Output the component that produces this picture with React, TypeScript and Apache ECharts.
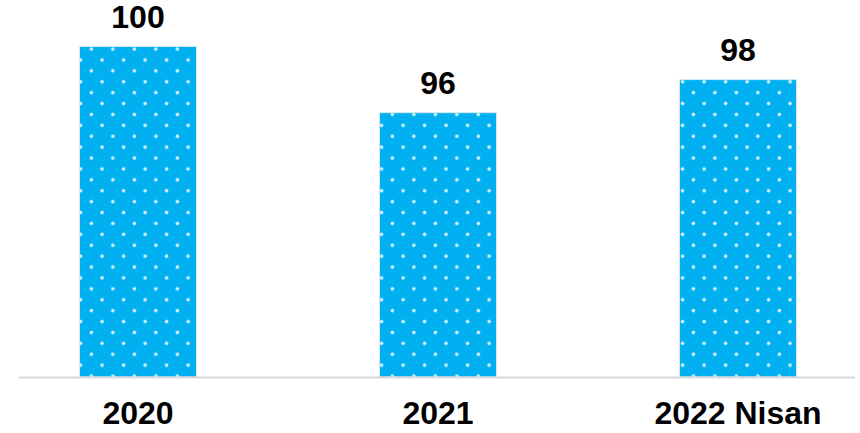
import React, { useEffect, useRef } from "react";
import * as echarts from "echarts";

const categories = ["2020", "2021", "2022 Nisan"];
const values = [100, 96, 98];

const dotSvg =
  "data:image/svg+xml;charset=utf-8," +
  encodeURIComponent(
    '<svg xmlns="http://www.w3.org/2000/svg" width="21.5" height="21.8" viewBox="0 0 21.5 21.8">' +
      '<rect width="21.5" height="21.8" fill="#00B0F0"/>' +
      '<circle cx="5.375" cy="5.45" r="1.9" fill="#9fe2fb"/>' +
      '<circle cx="5.375" cy="5.45" r="1.1" fill="#ffffff"/>' +
      '<circle cx="16.125" cy="16.35" r="1.9" fill="#9fe2fb"/>' +
      '<circle cx="16.125" cy="16.35" r="1.1" fill="#ffffff"/>' +
      "</svg>"
  );

export default function App() {
  const ref = useRef<HTMLDivElement>(null);
  useEffect(() => {
    if (!ref.current) return;
    const chart = echarts.init(ref.current, undefined, { renderer: "svg" });
    const pattern: any = {
      image: dotSvg,
      repeat: "repeat",
      imageWidth: 21.5,
      imageHeight: 21.8,
      x: 3.6,
      y: 6.25,
    };
    chart.setOption({
      animation: false,
      backgroundColor: "#ffffff",
      grid: {
        left: -12,
        right: -28,
        top: 46,
        bottom: 56,
        containLabel: false,
        outerBoundsMode: "none",
      },
      xAxis: {
        type: "category",
        data: categories,
        axisLine: { show: false },
        axisTick: { show: false },
        axisLabel: {
          color: "#000000",
          fontFamily: "Liberation Sans, Arial, sans-serif",
          fontWeight: "bold",
          fontSize: 32,
          margin: 20,
        },
      },
      yAxis: {
        type: "value",
        min: 80,
        max: 100,
        show: false,
        splitLine: { show: false },
      },
      series: [
        {
          type: "bar",
          data: values,
          barWidth: 118,
          itemStyle: {
            color: pattern,
            borderColor: "#d6e6f5",
            borderWidth: 1,
          },
          label: {
            show: true,
            position: "top",
            distance: 13,
            color: "#000000",
            fontFamily: "Liberation Sans, Arial, sans-serif",
            fontWeight: "bold",
            fontSize: 32,
          },
        },
      ],
      graphic: [
        {
          type: "line",
          shape: { x1: 19, y1: 377.5, x2: 855, y2: 377.5 },
          style: { stroke: "#d9d9d9", lineWidth: 2 },
          z: 10,
        },
      ],
    });
    return () => chart.dispose();
  }, []);
  return (
    <div
      ref={ref}
      style={{ position: "fixed", left: 0, top: 0, width: 860, height: 433 }}
    />
  );
}
